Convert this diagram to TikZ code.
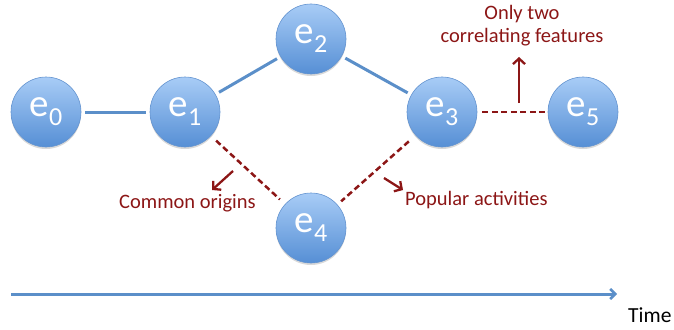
\documentclass[tikz,border=0pt]{standalone}
\usepackage{fontspec}
\setmainfont{Carlito}
\usetikzlibrary{arrows.meta,shadows}
\definecolor{nodeTop}{RGB}{168,204,246}
\definecolor{nodeBot}{RGB}{86,143,213}
\definecolor{nodeEdge}{RGB}{100,148,208}
\definecolor{linkBlue}{RGB}{91,143,201}
\definecolor{darkRed}{RGB}{140,22,22}
\newcommand\evlabel[1]{{\fontsize{39}{39}\selectfont e\raisebox{-9pt}{\fontsize{26}{26}\selectfont #1}}}
\begin{document}
\begin{tikzpicture}[x=1pt,y=-1pt,
  evt/.style={circle, minimum size=70pt, inner sep=0pt, top color=nodeTop, bottom color=nodeBot,
    draw=nodeEdge, line width=0.6pt, text=white,
    drop shadow={opacity=0.25, shadow xshift=0pt, shadow yshift=-2pt, fill=black!60}},
  solidlink/.style={draw=linkBlue, line width=3pt, shorten >=4pt, shorten <=4pt},
  redlink/.style={draw=darkRed, line width=2.5pt, dash pattern=on 6pt off 3.5pt},
  redarrow/.style={draw=darkRed, line width=2.3pt, -{Straight Barb[length=5.5pt,width=12pt,line width=2.3pt]}},
  redtext/.style={text=darkRed, font=\fontsize{20.5}{24}\selectfont, inner sep=0pt, align=center},
  timearrow/.style={draw=linkBlue, line width=3pt, -{Straight Barb[length=5pt,width=10pt,line width=2.5pt]}}
]
\useasboundingbox (0,0) rectangle (674,329);

\node[evt] (e0) at (46,112) {\evlabel{0}};
\node[evt] (e1) at (185,112) {\evlabel{1}};
\node[evt] (e2) at (311,39) {\evlabel{2}};
\node[evt] (e3) at (442,112) {\evlabel{3}};
\node[evt] (e4) at (311,228) {\evlabel{4}};
\node[evt] (e5) at (583,112) {\evlabel{5}};

\draw[solidlink] (e0) -- (e1);
\draw[solidlink] (e1) -- (e2);
\draw[solidlink] (e2) -- (e3);

\draw[redlink, shorten <=5pt, shorten >=3pt] (e3) -- (e5);
\draw[redlink, shorten <=7pt, shorten >=7pt] (e1) -- (e4);
\draw[redlink, shorten <=9pt, shorten >=5pt] (e3) -- (e4);

\node[redtext, anchor=base] (only) at (522,20) {Only two};
\node[redtext, anchor=base] (corr) at (522,43) {correlating features};
\node[redtext, anchor=base west] (common) at (119,208) {Common origins};
\node[redtext, anchor=base west] (popular) at (405,205) {Popular activities};

\coordinate (upStart) at (519,103);
\coordinate (upEnd) at (519,57);
\draw[redarrow] (upStart) -- (upEnd);
\coordinate (coStart) at (233,171);
\coordinate (coEnd) at (212,190);
\draw[redarrow] (coStart) -- (coEnd);
\coordinate (paStart) at (384,178);
\coordinate (paEnd) at (403,190);
\draw[redarrow] (paStart) -- (paEnd);

\coordinate (tStart) at (11,294);
\coordinate (tEnd) at (617,294);
\draw[timearrow] (tStart) -- (tEnd);
\node[font=\fontsize{21.5}{24}\selectfont, inner sep=0pt, anchor=base west] (time) at (628,322) {Time};
\end{tikzpicture}
\end{document}
